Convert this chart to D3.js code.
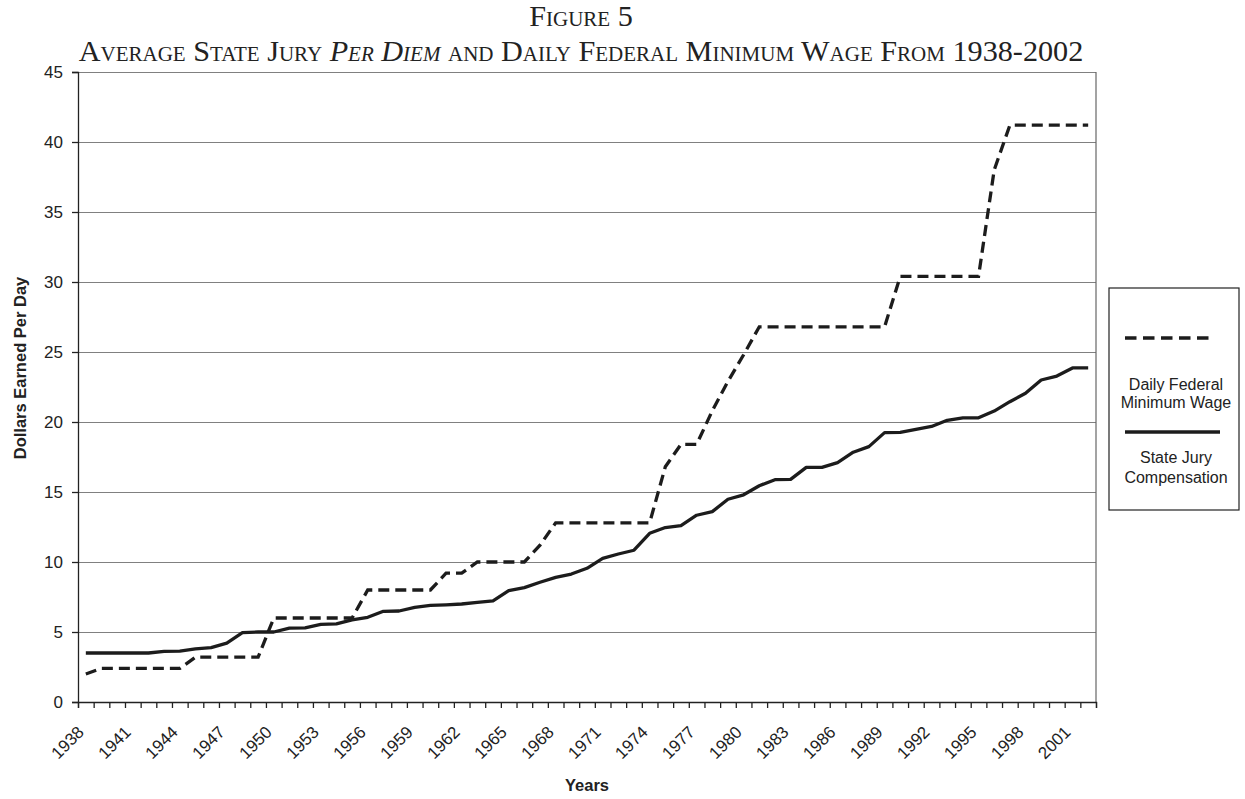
<!DOCTYPE html>
<html>
<head>
<meta charset="utf-8">
<script src="https://cdn.jsdelivr.net/npm/d3@7"></script>
<style>
  body { margin: 0; background: #fff; }
  text { font-family: "Liberation Sans", Arial, sans-serif; fill: #222; }
</style>
</head>
<body>
<div id="chart"></div>
<script>
var years = [1938, 1939, 1940, 1941, 1942, 1943, 1944, 1945, 1946, 1947,
  1948, 1949, 1950, 1951, 1952, 1953, 1954, 1955, 1956, 1957,
  1958, 1959, 1960, 1961, 1962, 1963, 1964, 1965, 1966, 1967,
  1968, 1969, 1970, 1971, 1972, 1973, 1974, 1975, 1976, 1977,
  1978, 1979, 1980, 1981, 1982, 1983, 1984, 1985, 1986, 1987,
  1988, 1989, 1990, 1991, 1992, 1993, 1994, 1995, 1996, 1997,
  1998, 1999, 2000, 2001, 2002];

// daily federal minimum wage (dashed)
var minWage = [2.0, 2.4, 2.4, 2.4, 2.4, 2.4, 2.4, 3.2, 3.2, 3.2,
  3.2, 3.2, 6.0, 6.0, 6.0, 6.0, 6.0, 6.0, 8.0, 8.0,
  8.0, 8.0, 8.0, 9.2, 9.2, 10.0, 10.0, 10.0, 10.0, 11.2,
  12.8, 12.8, 12.8, 12.8, 12.8, 12.8, 12.8, 16.8, 18.4, 18.4,
  20.8, 22.9, 24.8, 26.8, 26.8, 26.8, 26.8, 26.8, 26.8, 26.8,
  26.8, 26.8, 30.4, 30.4, 30.4, 30.4, 30.4, 30.4, 38.0, 41.2,
  41.2, 41.2, 41.2, 41.2, 41.2];

// average state jury compensation (solid)
var juryPay = [3.5, 3.5, 3.5, 3.5, 3.5, 3.62, 3.64, 3.8, 3.88, 4.2,
  4.95, 5.0, 5.0, 5.28, 5.3, 5.55, 5.58, 5.86, 6.05, 6.48,
  6.5, 6.76, 6.9, 6.94, 7.0, 7.12, 7.22, 7.95, 8.17, 8.55,
  8.9, 9.14, 9.55, 10.26, 10.57, 10.84, 12.05, 12.46, 12.6, 13.34,
  13.6, 14.48, 14.8, 15.45, 15.88, 15.9, 16.76, 16.76, 17.1, 17.84,
  18.24, 19.24, 19.26, 19.48, 19.68, 20.12, 20.3, 20.3, 20.78, 21.45,
  22.05, 23.0, 23.28, 23.86, 23.86];

var yTicks = [0, 5, 10, 15, 20, 25, 30, 35, 40, 45];
var xLabels = [1938, 1941, 1944, 1947, 1950, 1953, 1956, 1959, 1962, 1965,
  1968, 1971, 1974, 1977, 1980, 1983, 1986, 1989, 1992, 1995, 1998, 2001];

var svgWidth = 1245;
var svgHeight = 799;

var margin = {
  top: 72,
  right: 149,
  bottom: 97,
  left: 78
};

var width = svgWidth - margin.left - margin.right;
var height = svgHeight - margin.top - margin.bottom;

var svg = d3.select("#chart")
  .append("svg")
  .attr("width", svgWidth)
  .attr("height", svgHeight);

var chartGroup = svg.append("g")
  .attr("transform", `translate(${margin.left}, ${margin.top})`);

// scales
var xBand = d3.scaleBand()
  .domain(years)
  .range([0, width])
  .padding(0);

// used only for tick marks between categories
var xEdges = d3.scaleLinear()
  .domain([0, years.length])
  .range([0, width]);

var yLinearScale = d3.scaleLinear()
  .domain([0, 45])
  .range([height, 0]);

var xCenter = function(yr) { return xBand(yr) + xBand.bandwidth() / 2; };

// gridlines
var grid = chartGroup.append("g")
  .call(d3.axisLeft(yLinearScale).tickValues(yTicks).tickSize(-width).tickFormat(""));
grid.select(".domain").remove();
grid.selectAll("line").attr("stroke", "#808080").attr("stroke-width", 1.2);

// right border
chartGroup.append("line")
  .attr("x1", width).attr("x2", width)
  .attr("y1", 0).attr("y2", height)
  .attr("stroke", "#666")
  .attr("stroke-width", 1.2);

// left axis
var leftAxis = chartGroup.append("g")
  .call(d3.axisLeft(yLinearScale).tickValues(yTicks).tickSize(6).tickPadding(9));
leftAxis.selectAll("line, path").attr("stroke", "#222").attr("stroke-width", 1.3);
leftAxis.selectAll("text")
  .style("font-size", "17px")
  .style("font-family", "Liberation Sans, Arial, sans-serif")
  .attr("fill", "#222");

// bottom axis: ticks between categories
var tickAxis = chartGroup.append("g")
  .attr("transform", `translate(0, ${height})`)
  .call(d3.axisBottom(xEdges).tickValues(d3.range(years.length + 1)).tickSize(6).tickFormat(""));
tickAxis.selectAll("line, path").attr("stroke", "#222").attr("stroke-width", 1.3);

// bottom axis labels
var labelAxis = chartGroup.append("g")
  .attr("transform", `translate(0, ${height})`)
  .call(d3.axisBottom(xBand).tickValues(xLabels).tickSize(0));
labelAxis.select(".domain").remove();
labelAxis.selectAll("text")
  .attr("x", 0)
  .attr("y", 0)
  .attr("dy", "0.35em")
  .attr("text-anchor", "end")
  .attr("transform", "translate(-5, 27) rotate(-45)")
  .style("font-size", "17px")
  .style("font-family", "Liberation Sans, Arial, sans-serif")
  .attr("fill", "#222");

// lines
var lineGen = function(values) {
  return d3.line()
    .x(function(d, i) { return xCenter(years[i]); })
    .y(function(d) { return yLinearScale(d); })(values);
};

chartGroup.append("path")
  .attr("d", lineGen(minWage))
  .attr("fill", "none")
  .attr("stroke", "#1c1c1c")
  .attr("stroke-width", 3.3)
  .attr("stroke-dasharray", "11,6");

chartGroup.append("path")
  .attr("d", lineGen(juryPay))
  .attr("fill", "none")
  .attr("stroke", "#1c1c1c")
  .attr("stroke-width", 3.3)
  .attr("stroke-linejoin", "round");

// axis titles
svg.append("text")
  .attr("transform", "translate(26, 368) rotate(-90)")
  .attr("text-anchor", "middle")
  .style("font-size", "16.5px")
  .style("font-weight", "bold")
  .text("Dollars Earned Per Day");

svg.append("text")
  .attr("x", 587)
  .attr("y", 791)
  .attr("text-anchor", "middle")
  .style("font-size", "16.5px")
  .style("font-weight", "bold")
  .text("Years");

// title
var title1 = svg.append("text")
  .attr("x", 581)
  .attr("y", 26)
  .attr("text-anchor", "middle")
  .style("font-family", "Liberation Serif, Times New Roman, serif")
  .style("font-variant", "small-caps")
  .style("font-size", "27px")
  .text("Figure 5");

var title2 = svg.append("text")
  .attr("x", 581)
  .attr("y", 61)
  .attr("text-anchor", "middle")
  .style("font-family", "Liberation Serif, Times New Roman, serif")
  .style("font-variant", "small-caps")
  .style("font-size", "27px");
title2.append("tspan").text("Average State Jury ");
title2.append("tspan").style("font-style", "italic").text("Per Diem");
title2.append("tspan").text(" and Daily Federal Minimum Wage From 1938-2002");

// fit the long title to the width it has in the figure
var fitSize = 27 * 1012 / title2.node().getComputedTextLength();
title2.style("font-size", fitSize + "px");
title1.style("font-size", fitSize + "px");

// legend
var legend = svg.append("g");
legend.append("rect")
  .attr("x", 1109).attr("y", 288)
  .attr("width", 130).attr("height", 222)
  .attr("fill", "#fff")
  .attr("stroke", "#222")
  .attr("stroke-width", 1.2);

legend.append("line")
  .attr("x1", 1125).attr("x2", 1210)
  .attr("y1", 338).attr("y2", 338)
  .attr("stroke", "#1c1c1c")
  .attr("stroke-width", 3.3)
  .attr("stroke-dasharray", "11.5,6.5");

legend.append("line")
  .attr("x1", 1125).attr("x2", 1220)
  .attr("y1", 432).attr("y2", 432)
  .attr("stroke", "#1c1c1c")
  .attr("stroke-width", 3.3);

var legendText = [
  { t: "Daily Federal", y: 390 },
  { t: "Minimum Wage", y: 408 },
  { t: "State Jury", y: 463 },
  { t: "Compensation", y: 483 }
];
legend.selectAll("text.lg")
  .data(legendText)
  .enter().append("text")
  .attr("class", "lg")
  .attr("x", 1176)
  .attr("y", function(d) { return d.y; })
  .attr("text-anchor", "middle")
  .style("font-size", "16px")
  .text(function(d) { return d.t; });
</script>
</body>
</html>
